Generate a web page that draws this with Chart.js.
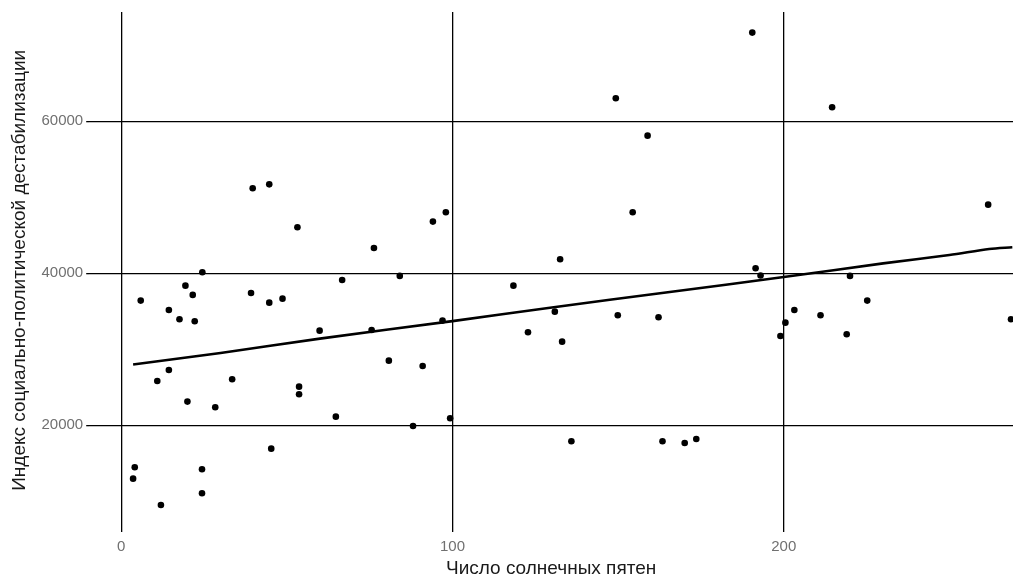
<!DOCTYPE HTML><html>
<head>
  <meta charset="utf-8">
  <script src="https://cdn.jsdelivr.net/npm/chart.js"></script>
  <style>
    html, body { margin: 0; padding: 0; background: #fff; }
    #wrap { width: 1017px; height: 583px; }
  </style>
</head>
<body>
  <div id="wrap"><canvas id="sunChart" width="1017" height="583"></canvas></div>
<script>
  // observed points: sunspot number vs. instability index
  const sunspots = [3.6, 4.1, 5.9, 10.9, 12.0, 14.4, 14.4, 17.6, 19.4, 20.0, 21.6, 22.2, 24.4, 24.4, 24.5,
    28.4, 33.5, 39.2, 39.7, 44.7, 44.7, 45.3, 48.7, 53.2, 53.7, 53.7, 59.9, 64.8, 66.7, 75.6, 76.3,
    80.8, 84.1, 88.1, 91.0, 94.1, 97.0, 98.0, 99.3, 118.4, 122.8, 130.9, 132.5, 133.1, 135.9,
    149.3, 149.9, 154.4, 158.9, 162.2, 163.4, 170.1, 173.6, 190.5, 191.5, 193.0, 199.0, 200.5,
    203.2, 211.1, 214.6, 219.0, 220.0, 225.2, 261.7, 268.6];
  const instability = [12970, 14470, 36400, 25830, 9510, 35170, 27280, 33950, 38370, 23110, 37150, 33690, 14210, 11050, 40130,
    22370, 26050, 37410, 51190, 51700, 36130, 16920, 36660, 46060, 25080, 24080, 32450, 21130, 39120, 32540, 43330,
    28500, 39650, 19900, 27800, 46800, 33770, 48030, 20920, 38370, 32240, 34950, 41850, 31000, 17890,
    63030, 34480, 48030, 58110, 34210, 17890, 17670, 18200, 71670, 40660, 39700, 31750, 33500,
    35170, 34480, 61850, 31980, 39650, 36400, 49030, 33950];

  // smoothed trend
  const trendX = [3.6, 30, 60, 100, 130, 165, 200, 230, 250, 262, 269];
  const trendY = [28000, 29500, 31400, 33700, 35500, 37500, 39500, 41300, 42400, 43200, 43430];

  const xTicks = [0, 100, 200];
  const yTicks = [20000, 40000, 60000];

  const points = sunspots.map((x, i) => ({x: x, y: instability[i]}));
  const trend = trendX.map((x, i) => ({x: x, y: trendY[i]}));

  const tickFont = {family: 'Liberation Sans, Arial', size: 15};
  const titleFont = {family: 'Liberation Sans, Arial', size: 19};

  const ctx = document.getElementById('sunChart').getContext('2d');
  const sunChart = new Chart(ctx, {
    type: 'scatter',
    data: {
      datasets: [{
        label: 'trend',
        type: 'line',
        data: trend,
        borderColor: '#000',
        borderWidth: 2.6,
        pointRadius: 0,
        tension: 0.3,
        fill: false,
        order: 1
      }, {
        label: 'points',
        data: points,
        backgroundColor: '#000',
        borderColor: '#000',
        pointRadius: 3.3,
        borderWidth: 0,
        order: 0
      }]
    },
    options: {
      responsive: false,
      animation: false,
      layout: { padding: {top: 12, right: 0, bottom: 0, left: 0} },
      plugins: { legend: {display: false}, tooltip: {enabled: false} },
      scales: {
        x: {
          type: 'linear',
          min: -9.65,
          max: 269.2,
          afterFit: function(scale) { scale.height = 54.4; },
          afterBuildTicks: function(scale) { scale.ticks = xTicks.map(v => ({value: v})); },
          border: {display: false},
          grid: {color: '#000', lineWidth: 1.3, tickLength: 3.5},
          ticks: {
            color: '#707070',
            font: tickFont,
            padding: 6,
            maxRotation: 0,
            callback: v => String(v)
          },
          title: {
            display: true,
            text: 'Число солнечных пятен',
            color: '#1a1a1a',
            font: titleFont,
            padding: {top: 0, bottom: 3}
          }
        },
        y: {
          type: 'linear',
          min: 6400,
          max: 74380,
          afterFit: function(scale) { scale.width = 89.2; },
          afterBuildTicks: function(scale) { scale.ticks = yTicks.map(v => ({value: v})); },
          border: {display: false},
          grid: {color: '#000', lineWidth: 1.3, tickLength: 3},
          ticks: {
            color: '#707070',
            font: tickFont,
            padding: 3,
            callback: v => String(v)
          },
          title: {
            display: true,
            text: 'Индекс социально-политической дестабилизации',
            color: '#1a1a1a',
            font: titleFont,
            padding: {top: 8.6, bottom: 0}
          }
        }
      }
    }
  });
</script>
</body>
</html>
